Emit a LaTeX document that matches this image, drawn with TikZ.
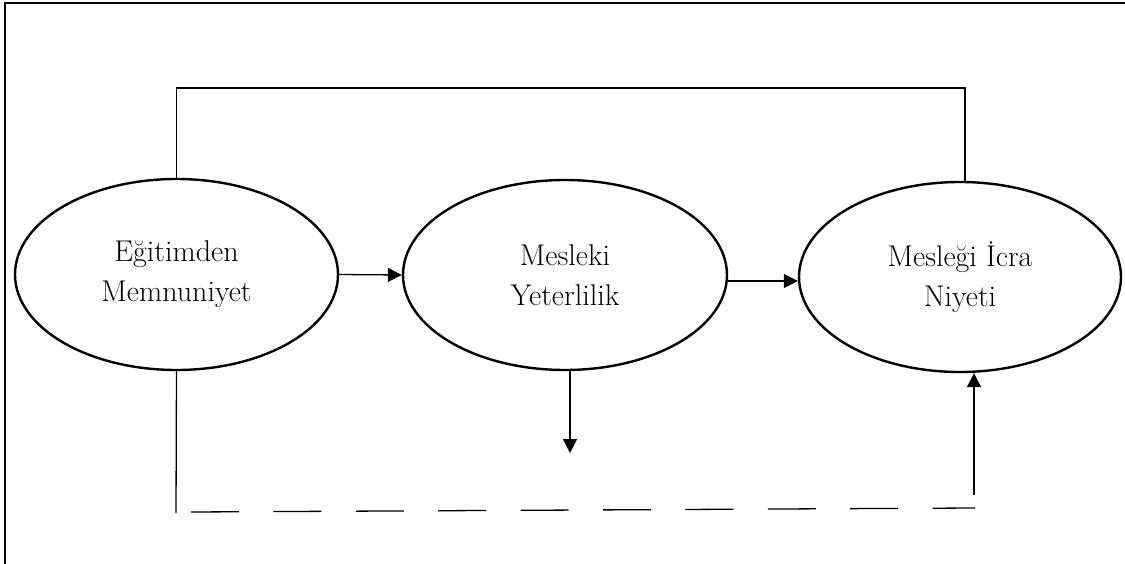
\documentclass[tikz,border=0pt]{standalone}
\usetikzlibrary{arrows.meta,shapes.geometric}
\begin{document}
\begin{tikzpicture}[x=1pt,y=-1pt,
  oval/.style={ellipse,draw,line width=2.4pt,inner sep=0pt,align=center,
    font=\fontsize{30}{40}\selectfont},
  conn/.style={line width=1.3pt},
  arr/.style={conn,-{Triangle[length=14pt,width=14pt]}},
  frame/.style={line width=2pt}]
\useasboundingbox (0,0) rectangle (1125,564);
\draw[frame] (5,564) -- (5,3) -- (1125,3);
\node[oval,minimum width=323pt,minimum height=191pt] (e1) at (176.5,274.5) {Eğitimden\\Memnuniyet};
\node[oval,minimum width=324pt,minimum height=190pt] (e2) at (565,275) {Mesleki\\Yeterlilik};
\node[oval,minimum width=322pt,minimum height=190pt] (e3) at (960,277) {Mesleği İcra\\Niyeti};
\coordinate (tr) at (965,88);
\coordinate (dn) at (570,453);
\coordinate (bl) at (176,513);
\coordinate (ds) at (191,512);
\coordinate (de) at (975,508);
\coordinate (up) at (974,495);
% top connector
\draw[conn] (e1.north) |- (tr) -- (tr |- e3.north);
% horizontal arrows
\draw[arr] (e1.east) -- (e2.west);
\draw[arr] ([yshift=-6pt]e2.east) -- ([yshift=-6pt]e2.east -| e3.west);
% down arrow
\draw[arr] (dn |- e2.south) -- (dn);
% bottom path
\draw[conn] (e1.south) -- (bl);
\draw[conn,dash pattern=on 48pt off 34.4pt] (ds) -- (de);
\draw[arr] (up) -- (up |- e3.south);
\end{tikzpicture}
\end{document}
